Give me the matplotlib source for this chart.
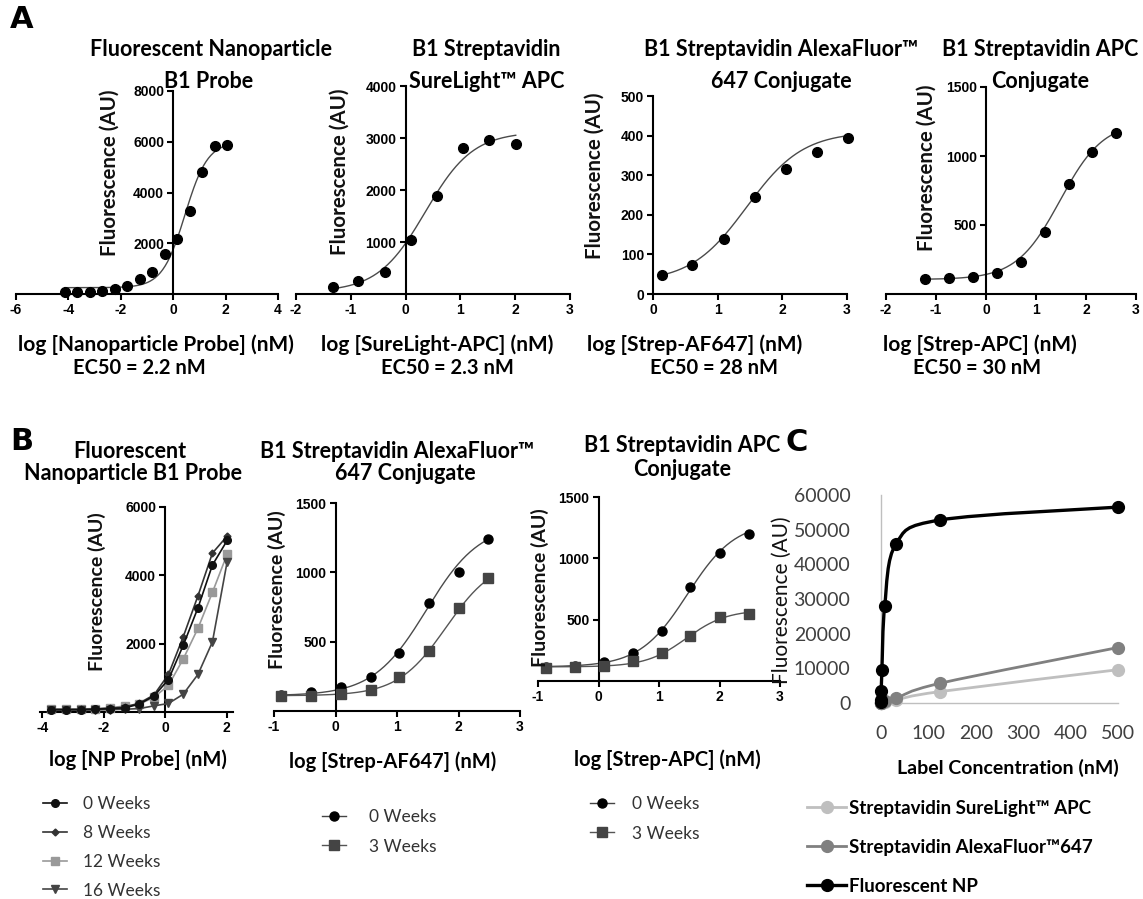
import numpy as np
import matplotlib
matplotlib.use('Agg')
import matplotlib.pyplot as plt
from matplotlib.lines import Line2D
from matplotlib.path import Path
from matplotlib.patches import PathPatch

W, H = 1143, 899

# ---------------- Panel A data: log concentration (nM) vs fluorescence (AU)
a1_x = [-4.14, -3.66, -3.19, -2.71, -2.23, -1.75, -1.28, -0.80, -0.32, 0.15, 0.63, 1.11, 1.58, 2.06]
a1_y = [90, 90, 95, 130, 200, 300, 590, 855, 1580, 2170, 3260, 4800, 5820, 5880]
a1_fit = (250, 6000, 0.45, 1.0)   # bottom, top, logEC50, hill

a2_x = [-1.33, -0.86, -0.38, 0.10, 0.57, 1.05, 1.53, 2.01]
a2_y = [134, 243, 429, 1030, 1888, 2802, 2956, 2886]
a2_fit = (40, 3120, 0.36, 1.0)

a3_x = [0.14, 0.61, 1.10, 1.58, 2.06, 2.53, 3.01]
a3_y = [47, 74, 139, 245, 315, 359, 394]
a3_fit = (30, 410, 1.45, 1.0)

a4_x = [-1.22, -0.74, -0.26, 0.21, 0.69, 1.17, 1.65, 2.12, 2.60]
a4_y = [106, 113, 123, 150, 229, 452, 800, 1031, 1169]
a4_fit = (105, 1250, 1.48, 1.0)

# ---------------- Panel B data: stability over time
b1_x = [-3.70, -3.22, -2.75, -2.27, -1.79, -1.32, -0.84, -0.36, 0.11, 0.59, 1.07, 1.54, 2.02]
b1_0wk = [70, 70, 70, 80, 100, 120, 230, 470, 950, 1950, 3050, 4300, 5020]
b1_8wk = [70, 70, 75, 85, 110, 140, 260, 500, 1100, 2200, 3400, 4650, 5150]
b1_12wk = [90, 90, 90, 100, 130, 170, 230, 430, 780, 1550, 2450, 3500, 4620]
b1_16wk = [60, 60, 60, 60, 70, 80, 100, 180, 250, 520, 1100, 2050, 4400]

b2_x = [-0.88, -0.40, 0.09, 0.57, 1.04, 1.52, 2.00, 2.48]
b2_0wk = [118, 137, 171, 245, 418, 776, 1000, 1238]
b2_3wk = [111, 111, 120, 154, 243, 433, 743, 959]
b2_fit_0wk = (110, 1350, 1.48, 1.0)
b2_fit_3wk = (110, 1100, 1.80, 1.1)

b3_x = [-0.86, -0.39, 0.09, 0.57, 1.05, 1.52, 2.00, 2.49]
b3_0wk = [115, 120, 155, 230, 410, 770, 1040, 1200]
b3_3wk = [110, 115, 125, 160, 225, 365, 520, 550]
b3_fit_0wk = (115, 1300, 1.47, 1.1)
b3_fit_3wk = (115, 580, 1.45, 1.3)

# ---------------- Panel C data: label concentration (nM) vs fluorescence (AU)
c_conc = [0.03, 0.12, 0.49, 1.95, 7.81, 31.25, 125, 500]
c_np = [250, 950, 3350, 9600, 28000, 45800, 52800, 56500]
c_af647 = [0, 10, 40, 150, 450, 1300, 5700, 16000]
c_surelight = [0, 5, 20, 80, 250, 900, 3300, 9600]

# fonts
TEXT_FONT = ['Lato', 'DejaVu Sans']
TICK_FONT = ['Liberation Sans Narrow', 'Liberation Sans', 'DejaVu Sans']
plt.rcParams['font.family'] = TEXT_FONT

fig = plt.figure(figsize=(W / 100, H / 100), dpi=100)


def px_axes(left, right, top, bottom):
    # axes placed by pixel edges of the figure
    return fig.add_axes([left / W, 1 - bottom / H, (right - left) / W, (bottom - top) / H])


def ftext(x, y, s, **kw):
    kw.setdefault('ha', 'center')
    kw.setdefault('va', 'center')
    fig.text(x / W, 1 - y / H, s, **kw)


def four_pl(x, fit):
    bottom, top, logec50, hill = fit
    return bottom + (top - bottom) / (1 + 10 ** ((logec50 - x) * hill))


def prism(ax, xlim, ylim, xticks, yticks, ycross=0):
    ax.set_xlim(xlim)
    ax.set_ylim(ylim)
    ax.set_xticks(xticks)
    ax.set_xticklabels([str(t) for t in xticks])
    ax.set_yticks(yticks)
    ax.set_yticklabels([str(t) for t in yticks])
    ax.spines['top'].set_visible(False)
    ax.spines['right'].set_visible(False)
    ax.spines['left'].set_position(('data', ycross))
    for s in ('left', 'bottom'):
        ax.spines[s].set_linewidth(1.5)
    ax.tick_params(direction='out', length=4.5, width=1.5, pad=2, labelsize=10)
    for lbl in ax.get_xticklabels() + ax.get_yticklabels():
        lbl.set_fontfamily(TICK_FONT)
        lbl.set_fontweight('bold')
    ax.patch.set_visible(False)


def fit_panel(ax, x, y, fit, marker='o', mcolor='black', lcolor='#4a4a4a', ms=7):
    xs = np.linspace(min(x), max(x), 200)
    ax.plot(xs, four_pl(xs, fit), color=lcolor, lw=1.0, zorder=2)
    ax.plot(x, y, linestyle='none', marker=marker, color=mcolor, ms=ms, zorder=3, clip_on=False)


title_kw = dict(fontsize=15.5, fontweight='bold')
xl_kw = dict(fontsize=15, fontweight='bold')
ec_kw = dict(fontsize=14.5, fontweight='bold')
yl_kw = dict(fontsize=14.8, rotation=90, color='#111111', fontweight='bold')
yl_kw_b = dict(fontsize=14, rotation=90, color='#111111', fontweight='bold')
leg_kw = dict(loc='upper left', frameon=False, borderpad=0, borderaxespad=0)

# ======================= Panel A =======================
ftext(22, 20, 'A', fontsize=22, fontweight='bold', family='DejaVu Sans')

ax = px_axes(16, 278, 91, 294)
prism(ax, (-6, 4), (0, 8000), [-6, -4, -2, 0, 2, 4], [2000, 4000, 6000, 8000])
fit_panel(ax, a1_x, a1_y, a1_fit)

ax = px_axes(296, 570, 86, 294)
prism(ax, (-2, 3), (0, 4000), [-2, -1, 0, 1, 2, 3], [1000, 2000, 3000, 4000])
fit_panel(ax, a2_x, a2_y, a2_fit)

ax = px_axes(653, 847, 96, 294)
prism(ax, (0, 3), (0, 500), [0, 1, 2, 3], [0, 100, 200, 300, 400, 500])
fit_panel(ax, a3_x, a3_y, a3_fit)

ax = px_axes(886, 1136, 87, 294)
prism(ax, (-2, 3), (0, 1500), [-2, -1, 0, 1, 2, 3], [500, 1000, 1500])
fit_panel(ax, a4_x, a4_y, a4_fit)

ftext(211, 50, 'Fluorescent Nanoparticle', **title_kw)
ftext(209, 81, 'B1 Probe', **title_kw)
ftext(486, 50, 'B1 Streptavidin', **title_kw)
ftext(487, 81, 'SureLight™ APC', **title_kw)
ftext(781, 50, 'B1 Streptavidin AlexaFluor™', **title_kw)
ftext(781, 81, '647 Conjugate', **title_kw)
ftext(1040, 50, 'B1 Streptavidin APC', **title_kw)
ftext(1040, 81, 'Conjugate', **title_kw)

ftext(156, 345, 'log [Nanoparticle Probe] (nM)', **xl_kw)
ftext(139, 368, 'EC50 = 2.2 nM', **ec_kw)
ftext(437, 345, 'log [SureLight-APC] (nM)', **xl_kw)
ftext(447, 368, 'EC50 = 2.3 nM', **ec_kw)
ftext(695, 345, 'log [Strep-AF647] (nM)', **xl_kw)
ftext(714, 368, 'EC50 = 28 nM', **ec_kw)
ftext(980, 345, 'log [Strep-APC] (nM)', **xl_kw)
ftext(977, 368, 'EC50 = 30 nM', **ec_kw)

ftext(110, 173, 'Fluorescence (AU)', **yl_kw)
ftext(340, 172, 'Fluorescence (AU)', **yl_kw)
ftext(595, 176, 'Fluorescence (AU)', **yl_kw)
ftext(927, 168, 'Fluorescence (AU)', **yl_kw)

# ======================= Panel B =======================
ftext(22, 441, 'B', fontsize=22, fontweight='bold', family='DejaVu Sans')

ax = px_axes(40, 233, 507, 712)
prism(ax, (-4.07, 2.21), (0, 6000), [-4, -2, 0, 2], [2000, 4000, 6000])
h0, = ax.plot(b1_x, b1_0wk, color='#111111', marker='o', ms=5.5, lw=1.2, clip_on=False, zorder=5)
h8, = ax.plot(b1_x, b1_8wk, color='#333333', marker='D', ms=3.5, lw=1.2, clip_on=False, zorder=4)
h12, = ax.plot(b1_x, b1_12wk, color='#999999', marker='s', ms=6, lw=1.2, clip_on=False, zorder=3)
h16, = ax.plot(b1_x, b1_16wk, color='#444444', marker='v', ms=6, lw=1.2, clip_on=False, zorder=3)
fig.legend([h0, h8, h12, h16], ['0 Weeks', '8 Weeks', '12 Weeks', '16 Weeks'],
           bbox_to_anchor=(43 / W, 1 - 796 / H), handlelength=1.4, handletextpad=0.9,
           labelspacing=0.74, prop={'size': 12.5}, labelcolor='#333333', **leg_kw)

ax = px_axes(274, 520, 503, 711)
prism(ax, (-1, 3), (0, 1500), [-1, 0, 1, 2, 3], [500, 1000, 1500])
fit_panel(ax, b2_x, b2_0wk, b2_fit_0wk, ms=6.5)
fit_panel(ax, b2_x, b2_3wk, b2_fit_3wk, marker='s', mcolor='#444444', lcolor='#555555', ms=6.5)
hb0 = Line2D([], [], color='#444444', lw=1.0, marker='o', mfc='black', mec='black', ms=6.5)
hb3 = Line2D([], [], color='#555555', lw=1.0, marker='s', mfc='#444444', mec='#444444', ms=6.5)
fig.legend([hb0, hb3], ['0 Weeks', '3 Weeks'],
           bbox_to_anchor=(322 / W, 1 - 809 / H), handlelength=1.4, handletextpad=1.3,
           labelspacing=0.78, prop={'size': 12.5}, labelcolor='#333333', **leg_kw)

ax = px_axes(538, 780, 497, 681)
prism(ax, (-1, 3), (0, 1500), [-1, 0, 1, 2, 3], [500, 1000, 1500])
fit_panel(ax, b3_x, b3_0wk, b3_fit_0wk, ms=6.5)
fit_panel(ax, b3_x, b3_3wk, b3_fit_3wk, marker='s', mcolor='#444444', lcolor='#555555', ms=6.5)
fig.legend([hb0, hb3], ['0 Weeks', '3 Weeks'],
           bbox_to_anchor=(590 / W, 1 - 796 / H), handlelength=1.4, handletextpad=1.0,
           labelspacing=0.78, prop={'size': 12.5}, labelcolor='#333333', **leg_kw)

ftext(130, 452, 'Fluorescent', **title_kw)
ftext(133, 474, 'Nanoparticle B1 Probe', **title_kw)
ftext(397, 452, 'B1 Streptavidin AlexaFluor™', **title_kw)
ftext(405, 474, '647 Conjugate', **title_kw)
ftext(682, 445, 'B1 Streptavidin APC', **title_kw)
ftext(682, 469, 'Conjugate', **title_kw)

ftext(138, 760, 'log [NP Probe] (nM)', fontsize=14.5, fontweight='bold')
ftext(393, 762, 'log [Strep-AF647] (nM)', fontsize=14.5, fontweight='bold')
ftext(667, 760, 'log [Strep-APC] (nM)', fontsize=14.5, fontweight='bold')

ftext(97, 592, 'Fluorescence (AU)', **yl_kw_b)
ftext(277, 590, 'Fluorescence (AU)', **yl_kw_b)
ftext(540, 588, 'Fluorescence (AU)', **yl_kw_b)

# ======================= Panel C =======================
ftext(797, 443, 'C', fontsize=22, fontweight='bold', family='DejaVu Sans')

axc = px_axes(881, 1118, 495, 703)
axc.set_xlim(0, 500)
axc.set_ylim(0, 60000)
axc.set_xticks(range(0, 501, 100))
axc.set_yticks(range(0, 60001, 10000))
for s in ('top', 'right'):
    axc.spines[s].set_visible(False)
for s in ('left', 'bottom'):
    axc.spines[s].set_color('#bfbfbf')
    axc.spines[s].set_linewidth(1.0)
axc.tick_params(length=0, labelsize=14, labelcolor='#404040', pad=22)
axc.tick_params(axis='x', pad=16)
axc.patch.set_visible(False)


def smooth_line(ax, x, y, color, lw):
    # Excel-style smoothed line: Catmull-Rom Bezier in normalised axes space
    x0, x1 = ax.get_xlim()
    y0, y1 = ax.get_ylim()
    px = (np.asarray(x, float) - x0) / (x1 - x0)
    py = (np.asarray(y, float) - y0) / (y1 - y0)
    pts = np.column_stack([px, py])
    n = len(pts)
    verts = [pts[0]]
    codes = [Path.MOVETO]
    for i in range(n - 1):
        p_prev = pts[i - 1] if i > 0 else pts[i]
        p_next = pts[i + 2] if i + 2 < n else pts[i + 1]
        c1 = pts[i] + (pts[i + 1] - p_prev) / 6
        c2 = pts[i + 1] - (p_next - pts[i]) / 6
        verts += [c1, c2, pts[i + 1]]
        codes += [Path.CURVE4] * 3
    verts = np.array(verts)
    verts[:, 0] = x0 + verts[:, 0] * (x1 - x0)
    verts[:, 1] = y0 + verts[:, 1] * (y1 - y0)
    ax.add_patch(PathPatch(Path(verts, codes), facecolor='none', edgecolor=color,
                           lw=lw, clip_on=False, zorder=3, capstyle='round', joinstyle='round'))


series_c = [(c_surelight, '#bfbfbf', 2.0, 'Streptavidin SureLight™ APC'),
            (c_af647, '#808080', 2.0, 'Streptavidin AlexaFluor™647'),
            (c_np, '#000000', 2.4, 'Fluorescent NP')]
handles_c = []
for vals, col, lw, lab in series_c:
    smooth_line(axc, c_conc, vals, col, lw)
    axc.plot(c_conc, vals, linestyle='none', marker='o', color=col, ms=8.5, clip_on=False, zorder=4)
    handles_c.append(Line2D([], [], color=col, lw=lw, marker='o', ms=8.5))

fig.legend(handles_c, [s[3] for s in series_c],
           bbox_to_anchor=(807 / W, 1 - 800 / H), handlelength=2.1, handletextpad=0.15,
           labelspacing=1.17, prop={'size': 13.5, 'weight': 'bold'}, **leg_kw)

ftext(1008, 768, 'Label Concentration (nM)', fontsize=14, fontweight='bold')
ftext(782, 600, 'Fluorescence (AU)', fontsize=15, rotation=90, color='#111111')

fig.savefig('out.png', dpi=100)
